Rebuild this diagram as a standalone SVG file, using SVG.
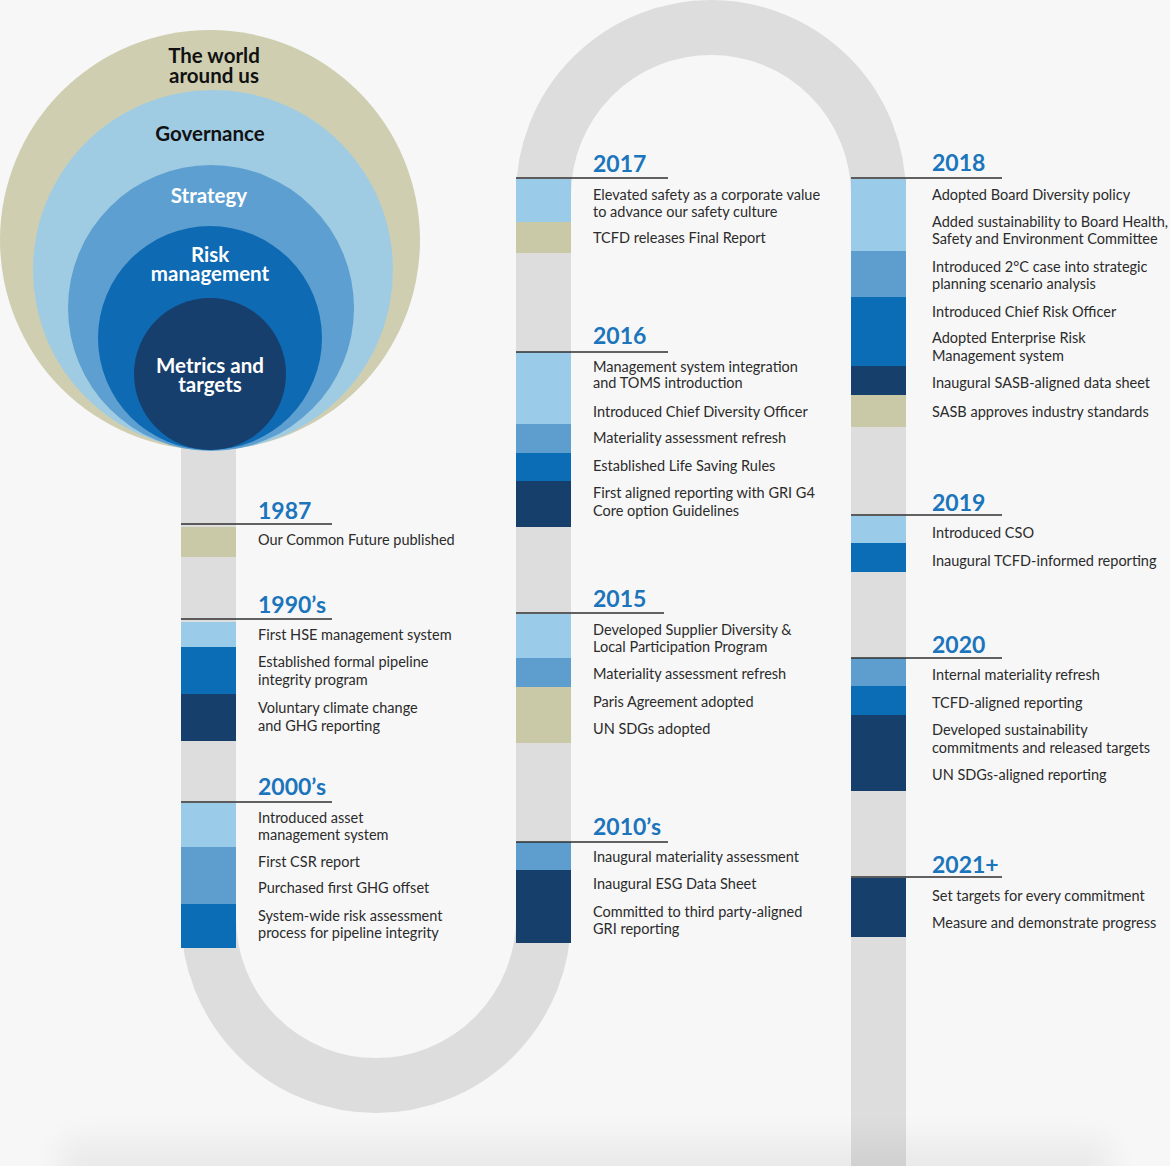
<svg xmlns="http://www.w3.org/2000/svg" width="1170" height="1166" viewBox="0 0 1170 1166">
<defs>
<style>
.t{font-family:Lato,"Open Sans","Liberation Sans",sans-serif;font-size:14.5px;fill:#2b2b2b}
.y{font-family:Lato,"Open Sans","Liberation Sans",sans-serif;font-size:23px;font-weight:700;fill:#1b75bc}
.c{font-family:Lato,"Open Sans","Liberation Sans",sans-serif;font-size:20.5px;font-weight:700;text-anchor:middle}
.rule{stroke:#2f2f2f;stroke-width:1.5}
.lb{fill:#9acbe8}.mb{fill:#5d9ecf}.bl{fill:#0b6db6}.nv{fill:#173f6c}.bg{fill:#c9c9a7}
</style>
<filter id="blur" x="-20%" y="-100%" width="140%" height="300%"><feGaussianBlur stdDeviation="16"/></filter>
</defs>
<rect width="1170" height="1166" fill="#f7f7f7"/>

<g id="connectors">
<path id="track" d="M208.5 440 L208.5 918 A167.5 167.5 0 0 0 543.5 918 L543.5 195 A167.5 167.5 0 0 1 878.5 195 L878.5 1170" fill="none" stroke="#dddddd" stroke-width="55"/>
</g>

<g id="circles">
<circle cx="210" cy="240" r="210" fill="#cfceb1"/>
<circle cx="213" cy="270" r="180" fill="#a0cce3"/>
<circle cx="211" cy="308" r="143" fill="#5d9fd0"/>
<circle cx="210" cy="338" r="112" fill="#0e6ab3"/>
<circle cx="210" cy="374" r="76" fill="#173f6d"/>
<text class="c" fill="#111"><tspan x="214" y="63">The world</tspan><tspan x="214" y="83">around us</tspan></text>
<text class="c" x="210" y="141" fill="#111">Governance</text>
<text class="c" x="209" y="203" fill="#fff">Strategy</text>
<text class="c" fill="#fff"><tspan x="210" y="262">Risk</tspan><tspan x="210" y="281">management</tspan></text>
<text class="c" fill="#fff"><tspan x="210" y="373">Metrics and</tspan><tspan x="210" y="392">targets</tspan></text>
</g>

<g id="y1987">
<rect class="bg" x="181" y="527" width="55" height="30"/>
<text class="y" x="258" y="519">1987</text>
<line class="rule" x1="181" y1="524" x2="332" y2="524"/>
<text class="t" x="258" y="545">Our Common Future published</text>
</g>

<g id="y1990s">
<rect class="lb" x="181" y="622" width="55" height="25"/>
<rect class="bl" x="181" y="647" width="55" height="47"/>
<rect class="nv" x="181" y="694" width="55" height="47"/>
<text class="y" x="258" y="613">1990’s</text>
<line class="rule" x1="181" y1="619" x2="332" y2="619"/>
<text class="t" x="258" y="640">First HSE management system</text>
<text class="t" x="258" y="667">Established formal pipeline</text>
<text class="t" x="258" y="685">integrity program</text>
<text class="t" x="258" y="713">Voluntary climate change</text>
<text class="t" x="258" y="731">and GHG reporting</text>
</g>

<g id="y2000s">
<rect class="lb" x="181" y="803" width="55" height="44"/>
<rect class="mb" x="181" y="847" width="55" height="57"/>
<rect class="bl" x="181" y="904" width="55" height="44"/>
<text class="y" x="258" y="795">2000’s</text>
<line class="rule" x1="181" y1="802" x2="332" y2="802"/>
<text class="t" x="258" y="823">Introduced asset</text>
<text class="t" x="258" y="840">management system</text>
<text class="t" x="258" y="867">First CSR report</text>
<text class="t" x="258" y="893">Purchased first GHG offset</text>
<text class="t" x="258" y="921">System-wide risk assessment</text>
<text class="t" x="258" y="938">process for pipeline integrity</text>
</g>

<g id="y2010s">
<rect class="mb" x="516" y="842" width="55" height="28"/>
<rect class="nv" x="516" y="870" width="55" height="73"/>
<text class="y" x="593" y="835">2010’s</text>
<line class="rule" x1="516" y1="842" x2="668" y2="842"/>
<text class="t" x="593" y="862">Inaugural materiality assessment</text>
<text class="t" x="593" y="889">Inaugural ESG Data Sheet</text>
<text class="t" x="593" y="917">Committed to third party-aligned</text>
<text class="t" x="593" y="934">GRI reporting</text>
</g>

<g id="y2015">
<rect class="lb" x="516" y="614" width="55" height="44"/>
<rect class="mb" x="516" y="658" width="55" height="29"/>
<rect class="bg" x="516" y="687" width="55" height="56"/>
<text class="y" x="593" y="607">2015</text>
<line class="rule" x1="516" y1="613" x2="664" y2="613"/>
<text class="t" x="593" y="635">Developed Supplier Diversity &amp;</text>
<text class="t" x="593" y="652">Local Participation Program</text>
<text class="t" x="593" y="679">Materiality assessment refresh</text>
<text class="t" x="593" y="707">Paris Agreement adopted</text>
<text class="t" x="593" y="734">UN SDGs adopted</text>
</g>

<g id="y2016">
<rect class="lb" x="516" y="352" width="55" height="72"/>
<rect class="mb" x="516" y="424" width="55" height="29"/>
<rect class="bl" x="516" y="453" width="55" height="28"/>
<rect class="nv" x="516" y="481" width="55" height="46"/>
<text class="y" x="593" y="344">2016</text>
<line class="rule" x1="516" y1="352" x2="668" y2="352"/>
<text class="t" x="593" y="372">Management system integration</text>
<text class="t" x="593" y="388">and TOMS introduction</text>
<text class="t" x="593" y="417">Introduced Chief Diversity Officer</text>
<text class="t" x="593" y="443">Materiality assessment refresh</text>
<text class="t" x="593" y="471">Established Life Saving Rules</text>
<text class="t" x="593" y="498">First aligned reporting with GRI G4</text>
<text class="t" x="593" y="516">Core option Guidelines</text>
</g>

<g id="y2017">
<rect class="lb" x="516" y="179" width="55" height="43"/>
<rect class="bg" x="516" y="222" width="55" height="31"/>
<text class="y" x="593" y="172">2017</text>
<line class="rule" x1="516" y1="178" x2="668" y2="178"/>
<text class="t" x="593" y="200">Elevated safety as a corporate value</text>
<text class="t" x="593" y="217">to advance our safety culture</text>
<text class="t" x="593" y="243">TCFD releases Final Report</text>
</g>

<g id="y2018">
<rect class="lb" x="851" y="179" width="55" height="72"/>
<rect class="mb" x="851" y="251" width="55" height="46"/>
<rect class="bl" x="851" y="297" width="55" height="69"/>
<rect class="nv" x="851" y="366" width="55" height="29"/>
<rect class="bg" x="851" y="395" width="55" height="32"/>
<text class="y" x="932" y="171">2018</text>
<line class="rule" x1="851" y1="178" x2="1002" y2="178"/>
<text class="t" x="932" y="200">Adopted Board Diversity policy</text>
<text class="t" x="932" y="227">Added sustainability to Board Health,</text>
<text class="t" x="932" y="244">Safety and Environment Committee</text>
<text class="t" x="932" y="272">Introduced 2°C case into strategic</text>
<text class="t" x="932" y="289">planning scenario analysis</text>
<text class="t" x="932" y="317">Introduced Chief Risk Officer</text>
<text class="t" x="932" y="343">Adopted Enterprise Risk</text>
<text class="t" x="932" y="361">Management system</text>
<text class="t" x="932" y="388">Inaugural SASB-aligned data sheet</text>
<text class="t" x="932" y="417">SASB approves industry standards</text>
</g>

<g id="y2019">
<rect class="lb" x="851" y="516" width="55" height="27"/>
<rect class="bl" x="851" y="543" width="55" height="29"/>
<text class="y" x="932" y="511">2019</text>
<line class="rule" x1="851" y1="515" x2="1002" y2="515"/>
<text class="t" x="932" y="538">Introduced CSO</text>
<text class="t" x="932" y="566">Inaugural TCFD-informed reporting</text>
</g>

<g id="y2020">
<rect class="mb" x="851" y="658" width="55" height="28"/>
<rect class="bl" x="851" y="686" width="55" height="29"/>
<rect class="nv" x="851" y="715" width="55" height="76"/>
<text class="y" x="932" y="653">2020</text>
<line class="rule" x1="851" y1="658" x2="1002" y2="658"/>
<text class="t" x="932" y="680">Internal materiality refresh</text>
<text class="t" x="932" y="708">TCFD-aligned reporting</text>
<text class="t" x="932" y="735">Developed sustainability</text>
<text class="t" x="932" y="753">commitments and released targets</text>
<text class="t" x="932" y="780">UN SDGs-aligned reporting</text>
</g>

<g id="y2021">
<rect class="nv" x="851" y="878" width="55" height="59"/>
<text class="y" x="932" y="873">2021+</text>
<line class="rule" x1="851" y1="877" x2="1002" y2="877"/>
<text class="t" x="932" y="901">Set targets for every commitment</text>
<text class="t" x="932" y="928">Measure and demonstrate progress</text>
</g>

<rect x="60" y="1140" width="1050" height="60" fill="#000" opacity="0.05" filter="url(#blur)"/>
</svg>
